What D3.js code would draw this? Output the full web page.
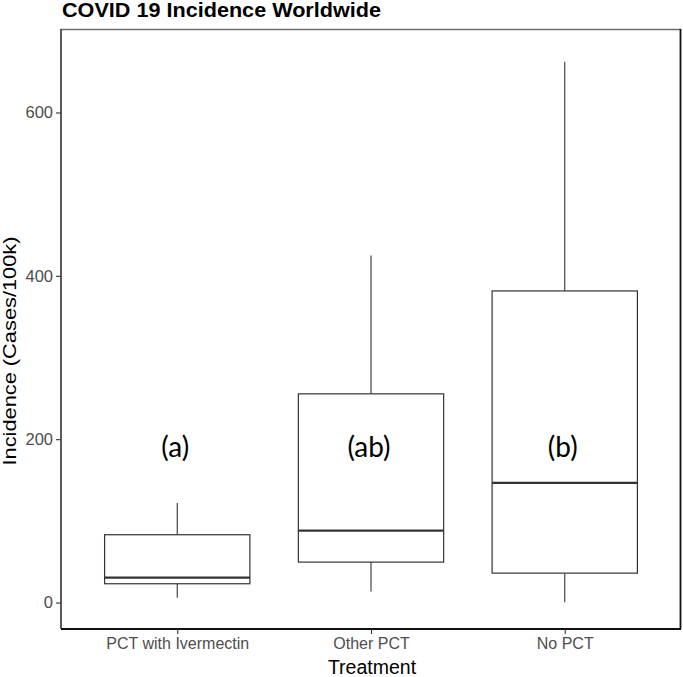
<!DOCTYPE html>
<html>
<head>
<meta charset="utf-8">
<script src="https://cdn.jsdelivr.net/npm/d3@7"></script>
<style>
  html, body { margin: 0; padding: 0; background: #fff; }
  svg { display: block; }
</style>
</head>
<body>
<svg id="chart" width="683" height="677"></svg>
<script>
const categories = ["PCT with Ivermectin", "Other PCT", "No PCT"];
const mins    = [6, 13.5, 0.5];
const q1s     = [23, 49.5, 36];
const medians = [30.5, 88, 146.5];
const q3s     = [83, 255.5, 381.5];
const maxs    = [122, 425, 662];
const groupLetters = ["(a)", "(ab)", "(b)"];
const letterValue = 190;
const yTicks = [0, 200, 400, 600];
const yDomain = [-32.4, 702.2];

const svg = d3.select("#chart");
const panel = { left: 61, right: 681, top: 29, bottom: 629 };

const x = d3.scalePoint().domain(categories).range([panel.left, panel.right]).padding(0.6);
const y = d3.scaleLinear().domain(yDomain).range([panel.bottom, panel.top]);
const boxW = x.step() * 0.75;

// title
svg.append("text")
  .attr("x", panel.left + 1).attr("y", 17)
  .attr("font-family", "Liberation Sans, Arial, sans-serif")
  .attr("font-weight", "bold").attr("font-size", 20)
  .attr("textLength", 319).attr("lengthAdjust", "spacingAndGlyphs")
  .attr("fill", "#000")
  .text("COVID 19 Incidence Worldwide");

// panel border (top & right)
svg.append("line").attr("x1", panel.left).attr("x2", panel.right)
  .attr("y1", panel.top + 0.5).attr("y2", panel.top + 0.5)
  .attr("stroke", "#6e6e6e").attr("stroke-width", 1.4);
svg.append("line").attr("x1", panel.right - 0.5).attr("x2", panel.right - 0.5)
  .attr("y1", panel.top).attr("y2", panel.bottom)
  .attr("stroke", "#111").attr("stroke-width", 1.8);

const data = categories.map((c, i) => ({
  cat: c, min: mins[i], q1: q1s[i], med: medians[i], q3: q3s[i], max: maxs[i], letter: groupLetters[i]
}));

const g = svg.append("g");
const boxes = g.selectAll("g.box").data(data).join("g").attr("class", "box");

boxes.append("line")
  .attr("x1", d => x(d.cat)).attr("x2", d => x(d.cat))
  .attr("y1", d => y(d.q3)).attr("y2", d => y(d.max))
  .attr("stroke", "#333").attr("stroke-width", 1.1);
boxes.append("line")
  .attr("x1", d => x(d.cat)).attr("x2", d => x(d.cat))
  .attr("y1", d => y(d.q1)).attr("y2", d => y(d.min))
  .attr("stroke", "#333").attr("stroke-width", 1.1);
boxes.append("rect")
  .attr("x", d => x(d.cat) - boxW / 2).attr("width", boxW)
  .attr("y", d => y(d.q3)).attr("height", d => y(d.q1) - y(d.q3))
  .attr("fill", "#fff").attr("stroke", "#333").attr("stroke-width", 1.2);
boxes.append("line")
  .attr("x1", d => x(d.cat) - boxW / 2).attr("x2", d => x(d.cat) + boxW / 2)
  .attr("y1", d => y(d.med)).attr("y2", d => y(d.med))
  .attr("stroke", "#333").attr("stroke-width", 2.2);

boxes.append("text")
  .attr("x", d => x(d.cat) - 2).attr("y", y(letterValue))
  .attr("dy", "0.35em")
  .attr("text-anchor", "middle")
  .attr("font-family", "Lato, 'Open Sans', sans-serif")
  .attr("font-size", 28)
  .attr("fill", "#000")
  .text(d => d.letter);

// axes
const yAxis = d3.axisLeft(y).tickValues(yTicks).tickSize(5).tickPadding(3);
const yg = svg.append("g").attr("transform", `translate(${panel.left},0)`).call(yAxis);
yg.select(".domain").attr("stroke", "#333").attr("stroke-width", 1.6)
  .attr("d", `M0,${panel.top}V${panel.bottom}`);
yg.selectAll(".tick line").attr("stroke", "#333").attr("stroke-width", 1.1);
yg.selectAll(".tick text").attr("fill", "#4d4d4d")
  .attr("font-family", "Liberation Sans, Arial, sans-serif").attr("font-size", 16.5);

const xAxis = d3.axisBottom(x).tickSize(5).tickPadding(4);
const xg = svg.append("g").attr("transform", `translate(0,${panel.bottom})`).call(xAxis);
xg.select(".domain").attr("stroke", "#111").attr("stroke-width", 1.8)
  .attr("d", `M${panel.left},0H${panel.right}`);
xg.selectAll(".tick line").attr("stroke", "#333").attr("stroke-width", 1.1);
xg.selectAll(".tick text").attr("fill", "#4d4d4d")
  .attr("font-family", "Liberation Sans, Arial, sans-serif").attr("font-size", 16);

// axis titles
svg.append("text")
  .attr("x", (panel.left + panel.right) / 2 + 1).attr("y", 674)
  .attr("text-anchor", "middle")
  .attr("font-family", "Liberation Sans, Arial, sans-serif").attr("font-size", 19.5)
  .attr("fill", "#000").text("Treatment");
svg.append("text")
  .attr("transform", `translate(16,351) rotate(-90)`)
  .attr("text-anchor", "middle")
  .attr("font-family", "Liberation Sans, Arial, sans-serif").attr("font-size", 18)
  .attr("textLength", 229).attr("lengthAdjust", "spacingAndGlyphs")
  .attr("fill", "#000").text("Incidence (Cases/100k)");
</script>
</body>
</html>
